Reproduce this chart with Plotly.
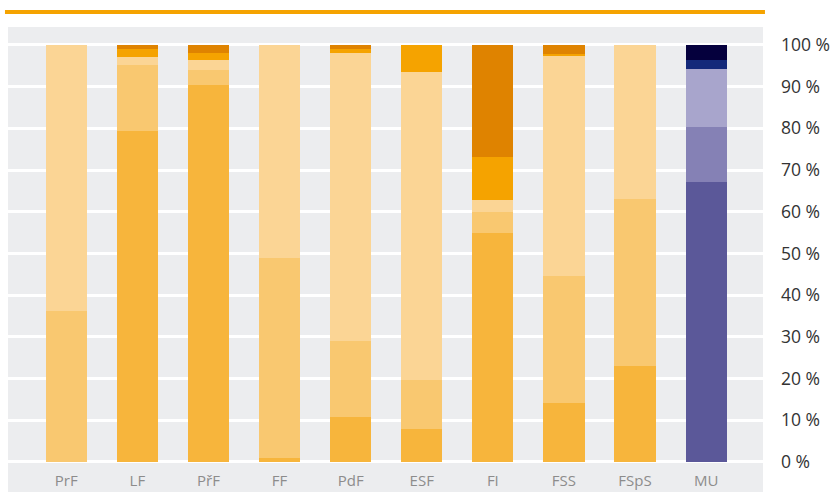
import plotly.graph_objects as go

categories = ["PrF", "LF", "PřF", "FF", "PdF", "ESF", "FI", "FSS", "FSpS", "MU"]

# stacked shares (bottom -> top), percent
layer1 = [0.0, 79.4, 90.4, 1.0, 10.9, 7.9, 54.9, 14.1, 23.0, 67.1]
layer2 = [36.2, 15.8, 3.6, 48.0, 18.1, 11.8, 5.1, 30.5, 40.1, 13.2]
layer3 = [63.8, 1.9, 2.4, 51.0, 69.1, 73.8, 2.8, 52.8, 36.9, 13.9]
layer4 = [0.0, 1.9, 1.7, 0.0, 0.9, 6.5, 10.3, 0.4, 0.0, 2.2]
layer5 = [0.0, 1.0, 1.9, 0.0, 1.0, 0.0, 26.9, 2.2, 0.0, 3.6]

orange_cols = ["#F7B53C", "#F9C870", "#FBD595", "#F5A300", "#DF8300"]
purple_cols = ["#5B5899", "#8581B5", "#A8A5CC", "#14297A", "#05003D"]

fig = go.Figure()
for i, vals in enumerate([layer1, layer2, layer3, layer4, layer5]):
    colors = [purple_cols[i] if c == "MU" else orange_cols[i] for c in categories]
    fig.add_trace(go.Bar(
        x=categories, y=vals, marker=dict(color=colors, line=dict(width=0)),
        width=0.58, showlegend=False, hoverinfo="skip"))

fig.update_layout(
    width=834, height=492,
    barmode="stack",
    paper_bgcolor="white",
    plot_bgcolor="#ECEDEF",
    margin=dict(l=8, r=71, t=27, b=0),
    font=dict(family="Open Sans", color="#333333"),
    xaxis=dict(
        range=[-0.82, 9.80], showgrid=False, zeroline=False, showline=False,
        ticks="", ticklabelposition="inside",
        tickfont=dict(size=15, color="#8C8C8C"),
    ),
    yaxis=dict(
        range=[-7.2, 104.3], side="right", dtick=10, tick0=0,
        ticksuffix=" %", showgrid=True, gridcolor="white", gridwidth=2.5,
        zeroline=False, showline=False, ticks="",
        ticklabelstandoff=17,
        tickfont=dict(size=17.5, color="#333333"),
    ),
    shapes=[dict(type="line", xref="paper", yref="paper",
                 x0=-0.004, x1=1.0026, y0=1.032, y1=1.032,
                 line=dict(color="#F5A300", width=4))],
)

fig.write_html("out.html", config={"displayModeBar": False},
               post_script="document.body.style.margin='0';document.body.style.overflow='hidden';")
